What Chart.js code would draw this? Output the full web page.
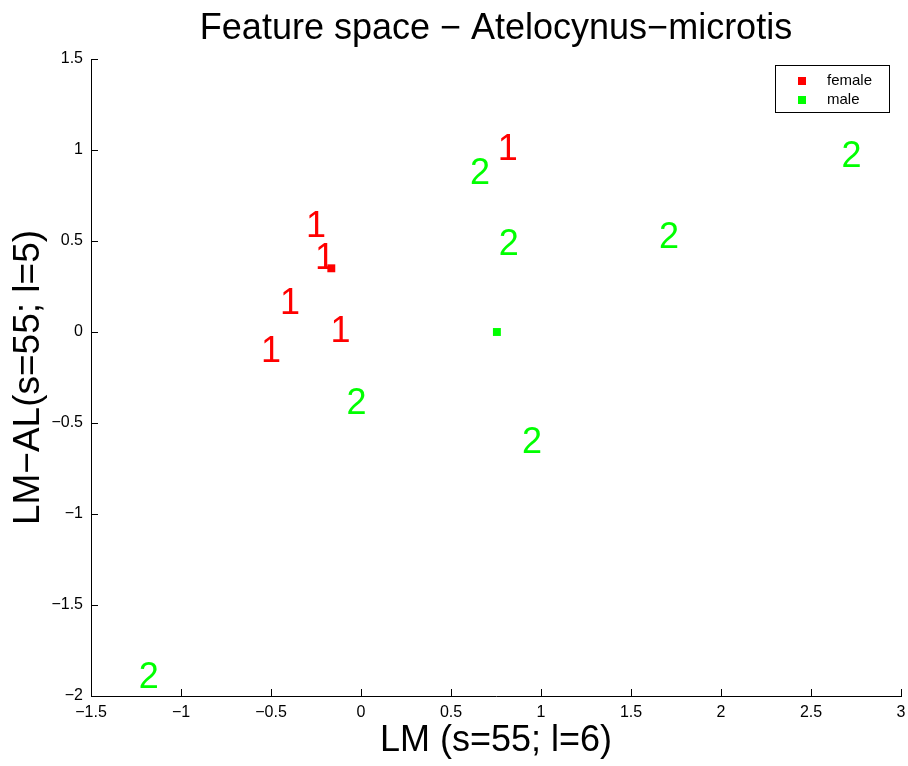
<!DOCTYPE html>
<html>
<head>
<meta charset="utf-8">
<script src="https://cdn.jsdelivr.net/npm/chart.js@4/dist/chart.umd.min.js"></script>
<style>
  html, body { margin: 0; padding: 0; background: #fff; }
  #wrap { width: 908px; height: 766px; }
</style>
</head>
<body>
<div id="wrap"><canvas id="chart"></canvas></div>
<script>
// Values (text anchor = left edge of the digit)
const femaleX = [0.76, -0.305, -0.255, -0.45, -0.17, -0.555];
const femaleY = [1.01, 0.59, 0.41, 0.165, 0.01, -0.10];
const maleX = [0.605, 0.765, 1.655, 2.67, -0.08, 0.895, -1.235];
const maleY = [0.88, 0.49, 0.525, 0.97, -0.385, -0.60, -1.89];
const femaleMean = [-0.165, 0.35];
const maleMean = [0.755, 0.0];
const seriesNames = ['female', 'male'];
const seriesColors = ['#ff0000', '#00ff00'];
const chartTitle = 'Feature space \u2212 Atelocynus\u2212microtis';

const FONT = '"Liberation Sans", Arial, Helvetica, sans-serif';

const toPoints = (xs, ys) => xs.map((x, i) => ({ x: x, y: ys[i] }));
const fmt = v => String(Math.round(v * 10) / 10).replace('-', '\u2212');

// Title centred over the plot area, as MATLAB does
const areaTitle = {
  id: 'areaTitle',
  afterDraw(chart) {
    const ctx = chart.ctx;
    const area = chart.chartArea;
    ctx.save();
    ctx.font = '36px ' + FONT;
    ctx.fillStyle = '#000';
    ctx.textAlign = 'center';
    ctx.textBaseline = 'middle';
    ctx.fillText(chartTitle, (area.left + area.right) / 2, 29);
    ctx.restore();
  }
};

// Draws the class number at each point, in MATLAB text() style
const glyphPlugin = {
  id: 'glyphs',
  afterDatasetsDraw(chart) {
    const ctx = chart.ctx;
    ctx.save();
    ctx.font = '36px ' + FONT;
    ctx.textAlign = 'left';
    ctx.textBaseline = 'middle';
    chart.data.datasets.forEach((ds, i) => {
      if (!ds.glyph) return;
      ctx.fillStyle = ds.glyphColor;
      chart.getDatasetMeta(i).data.forEach(pt => {
        ctx.fillText(ds.glyph, pt.x, pt.y + 2);
      });
    });
    ctx.restore();
  }
};

// Inward ticks like MATLAB axes
const inwardTicks = {
  id: 'inwardTicks',
  afterDraw(chart) {
    const ctx = chart.ctx;
    const xs = chart.scales.x, ys = chart.scales.y;
    const area = chart.chartArea;
    ctx.save();
    ctx.strokeStyle = '#000';
    ctx.lineWidth = 1;
    ctx.beginPath();
    xs.ticks.forEach(t => {
      const px = Math.round(xs.getPixelForValue(t.value)) + 0.5;
      ctx.moveTo(px, area.bottom);
      ctx.lineTo(px, area.bottom - 7);
    });
    ys.ticks.forEach(t => {
      const py = Math.round(ys.getPixelForValue(t.value)) + 0.5;
      ctx.moveTo(area.left, py);
      ctx.lineTo(area.left + 7, py);
    });
    ctx.stroke();
    ctx.restore();
  }
};

// Boxed legend in the upper right corner
const boxLegend = {
  id: 'boxLegend',
  afterDraw(chart) {
    const ctx = chart.ctx;
    const area = chart.chartArea;
    const w = 114, h = 47;
    const x0 = area.right - 12 - w, y0 = area.top + 6;
    ctx.save();
    ctx.fillStyle = '#fff';
    ctx.fillRect(x0, y0, w, h);
    ctx.strokeStyle = '#000';
    ctx.lineWidth = 1;
    ctx.strokeRect(x0 + 0.5, y0 + 0.5, w, h);
    ctx.font = '15px ' + FONT;
    ctx.textAlign = 'left';
    ctx.textBaseline = 'middle';
    seriesNames.forEach((name, i) => {
      const cy = y0 + 16 + i * 19;
      ctx.fillStyle = seriesColors[i];
      ctx.fillRect(x0 + 23, cy - 4, 8, 8);
      ctx.fillStyle = '#000';
      ctx.fillText(name, x0 + 52, cy);
    });
    ctx.restore();
  }
};

new Chart(document.getElementById('chart'), {
  type: 'scatter',
  data: {
    datasets: [
      {
        label: seriesNames[0],
        data: toPoints(femaleX, femaleY),
        glyph: '1',
        glyphColor: seriesColors[0],
        pointRadius: 0
      },
      {
        label: seriesNames[1],
        data: toPoints(maleX, maleY),
        glyph: '2',
        glyphColor: seriesColors[1],
        pointRadius: 0
      },
      {
        label: 'female mean',
        data: [{ x: femaleMean[0], y: femaleMean[1] }],
        pointStyle: 'rect',
        pointRadius: 5.6,
        backgroundColor: seriesColors[0],
        borderWidth: 0
      },
      {
        label: 'male mean',
        data: [{ x: maleMean[0], y: maleMean[1] }],
        pointStyle: 'rect',
        pointRadius: 5.6,
        backgroundColor: seriesColors[1],
        borderWidth: 0
      }
    ]
  },
  options: {
    responsive: true,
    maintainAspectRatio: false,
    animation: false,
    layout: { padding: { left: 0, right: 7, top: 59, bottom: 0 } },
    plugins: {
      legend: { display: false },
      tooltip: { enabled: false },
      title: { display: false }
    },
    scales: {
      x: {
        type: 'linear',
        min: -1.5,
        max: 3,
        afterFit(scale) {
          scale.height = 70;
          scale.paddingLeft = 0;
          scale.paddingRight = 0;
        },
        ticks: {
          stepSize: 0.5,
          color: '#000',
          padding: 7,
          maxRotation: 0,
          font: { family: FONT, size: 16 },
          callback: v => fmt(v)
        },
        grid: { display: false, drawTicks: false },
        border: { display: true, color: '#000', width: 1 },
        title: {
          display: true,
          text: 'LM (s=55; l=6)',
          color: '#000',
          font: { family: FONT, size: 36 },
          padding: { top: 0, bottom: 3 }
        }
      },
      y: {
        type: 'linear',
        min: -2,
        max: 1.5,
        afterFit(scale) {
          scale.width = 91;
          scale.paddingTop = 0;
          scale.paddingBottom = 0;
        },
        ticks: {
          stepSize: 0.5,
          color: '#000',
          padding: 8,
          font: { family: FONT, size: 16 },
          callback: v => fmt(v)
        },
        grid: { display: false, drawTicks: false },
        border: { display: true, color: '#000', width: 1 },
        title: {
          display: true,
          text: 'LM\u2212AL(s=55; l=5)',
          color: '#000',
          font: { family: FONT, size: 37 },
          padding: { top: 7, bottom: 0 }
        }
      }
    }
  },
  plugins: [glyphPlugin, inwardTicks, boxLegend, areaTitle]
});
</script>
</body>
</html>
